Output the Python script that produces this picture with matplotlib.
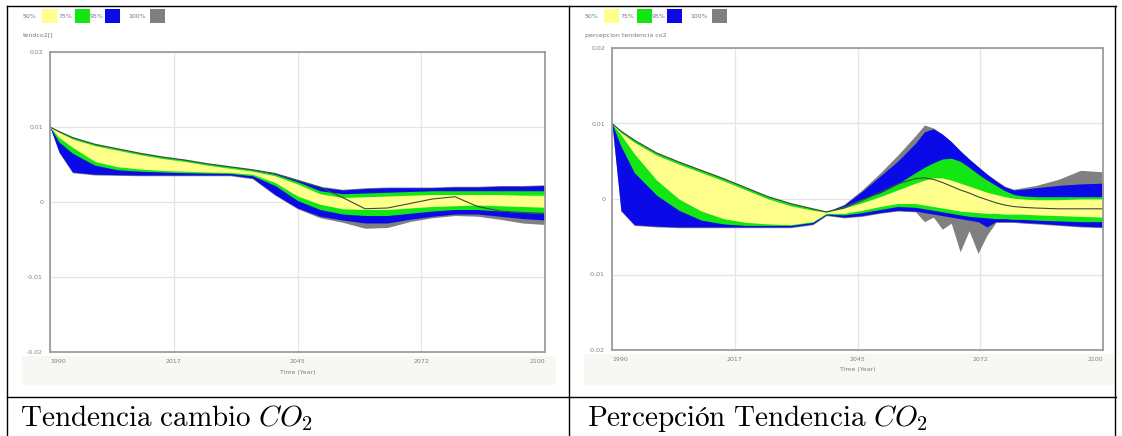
import numpy as np
import matplotlib
matplotlib.use("Agg")
import matplotlib.pyplot as plt
from matplotlib.patches import Rectangle

plt.rcParams['mathtext.fontset'] = 'cm'
plt.rcParams['font.family'] = ['DejaVu Sans']

# ---------------- data: Tendencia cambio CO2 ----------------
years_tend = [1990, 1992, 1995, 2000, 2005, 2010, 2015, 2020, 2025, 2030, 2035, 2040,
              2045, 2050, 2055, 2060, 2065, 2070, 2075, 2080, 2085, 2090, 2095, 2100]
tend_p100_hi = [0.0100, 0.0094, 0.0086, 0.0077, 0.0071, 0.0065, 0.0060, 0.0056, 0.0051, 0.0047, 0.0043, 0.0038,
                0.0029, 0.0021, 0.0017, 0.0019, 0.0020, 0.0020, 0.0020, 0.0021, 0.0021, 0.0022, 0.0022, 0.0023]
tend_p95_hi = [0.0100, 0.0094, 0.0086, 0.0077, 0.0071, 0.0065, 0.0060, 0.0056, 0.0051, 0.0047, 0.0043, 0.0038,
               0.0029, 0.0020, 0.0016, 0.0018, 0.0019, 0.0019, 0.0019, 0.0020, 0.0020, 0.0021, 0.0021, 0.0022]
tend_p75_hi = [0.0100, 0.0094, 0.0086, 0.0077, 0.0071, 0.0065, 0.0060, 0.0056, 0.0051, 0.0047, 0.0043, 0.0037,
               0.0027, 0.0015, 0.0011, 0.0012, 0.0013, 0.0014, 0.0015, 0.0015, 0.0015, 0.0015, 0.0015, 0.0015]
tend_p50_hi = [0.0100, 0.0093, 0.0084, 0.0075, 0.0069, 0.0063, 0.0058, 0.0054, 0.0049, 0.0045, 0.0041, 0.0035,
               0.0024, 0.0011, 0.0006, 0.0007, 0.0008, 0.0009, 0.0010, 0.0010, 0.0010, 0.0010, 0.0009, 0.0009]
tend_p50_lo = [0.0100, 0.0086, 0.0073, 0.0054, 0.0047, 0.0044, 0.0042, 0.0041, 0.0040, 0.00395, 0.0037, 0.0026,
               0.0008, -0.0003, -0.0009, -0.0010, -0.0010, -0.0008, -0.0006, -0.0005, -0.0004, -0.0005, -0.0006, -0.0007]
tend_p75_lo = [0.0100, 0.0080, 0.0065, 0.0049, 0.0043, 0.0041, 0.0040, 0.0039, 0.00385, 0.0038, 0.0035, 0.0022,
               0.0002, -0.0010, -0.0016, -0.0018, -0.0018, -0.0015, -0.0012, -0.0010, -0.0010, -0.0012, -0.0014, -0.0015]
tend_p95_lo = [0.0100, 0.0067, 0.0040, 0.0037, 0.00365, 0.0036, 0.0036, 0.0036, 0.0036, 0.0036, 0.0032, 0.0010,
               -0.0008, -0.0019, -0.0024, -0.0028, -0.0028, -0.0023, -0.0019, -0.0016, -0.0016, -0.0019, -0.0022, -0.0024]
tend_p100_lo = [0.0100, 0.0066, 0.0039, 0.0036, 0.00355, 0.0035, 0.0035, 0.0035, 0.0035, 0.0035, 0.0031, 0.0009,
                -0.0009, -0.0021, -0.0027, -0.0035, -0.0034, -0.0026, -0.0021, -0.0018, -0.0019, -0.0023, -0.0028, -0.0030]
tend_base = [0.0100, 0.0094, 0.0086, 0.0077, 0.0071, 0.0065, 0.0060, 0.0056, 0.0051, 0.0047, 0.0043, 0.0038,
             0.0029, 0.0020, 0.0006, -0.0009, -0.0008, -0.0002, 0.0004, 0.0007, -0.0006, -0.0012, -0.0014, -0.0015]

# ---------------- data: Percepcion Tendencia CO2 ----------------
years_perc = [1990, 1992, 1995, 2000, 2005, 2010, 2015, 2020, 2025, 2030, 2035, 2038, 2042, 2046, 2050,
              2054, 2058, 2060, 2062, 2064, 2066, 2068, 2070, 2072, 2074, 2076, 2078, 2080, 2082, 2085,
              2090, 2095, 2100]
perc_p100_hi = [0.0100, 0.0090, 0.0078, 0.0061, 0.0049, 0.0038, 0.0027, 0.0015, 0.0003, -0.0006, -0.0013, -0.0017,
                -0.0007, 0.0012, 0.0034, 0.0058, 0.0084, 0.0098, 0.0094, 0.0086, 0.0076, 0.0064, 0.0053, 0.0043,
                0.0033, 0.0025, 0.0017, 0.0013, 0.0015, 0.0018, 0.0026, 0.0038, 0.0036]
perc_p95_hi = [0.0100, 0.0090, 0.0078, 0.0061, 0.0049, 0.0038, 0.0027, 0.0015, 0.0003, -0.0006, -0.0013, -0.0017,
               -0.0008, 0.0010, 0.0030, 0.0050, 0.0074, 0.0089, 0.0093, 0.0086, 0.0076, 0.0064, 0.0053, 0.0043,
               0.0033, 0.0024, 0.0016, 0.0012, 0.0013, 0.0015, 0.0018, 0.0020, 0.0021]
perc_p75_hi = [0.0100, 0.0090, 0.0078, 0.0061, 0.0049, 0.0038, 0.0027, 0.0015, 0.0003, -0.0006, -0.0013, -0.0017,
               -0.0010, 0.0000, 0.0008, 0.0020, 0.0035, 0.0042, 0.0048, 0.0053, 0.0054, 0.0050, 0.0042, 0.0033,
               0.0025, 0.0018, 0.0011, 0.0006, 0.0004, 0.0003, 0.0003, 0.0003, 0.0003]
perc_p50_hi = [0.0100, 0.0088, 0.0075, 0.0058, 0.0046, 0.0035, 0.0024, 0.0012, 0.0000, -0.0009, -0.0015, -0.00175,
               -0.0012, -0.0005, 0.0003, 0.0012, 0.0021, 0.0025, 0.0028, 0.0028, 0.0025, 0.0021, 0.0017, 0.0013,
               0.0009, 0.0006, 0.0003, 0.0001, 0.0000, -0.0001, -0.0001, 0.0000, 0.0000]
perc_p50_lo = [0.0100, 0.0085, 0.0060, 0.0025, 0.0000, -0.0016, -0.0026, -0.0031, -0.0033, -0.0034, -0.0030, -0.0019,
               -0.0019, -0.0015, -0.0010, -0.0006, -0.0006, -0.0008, -0.0010, -0.0012, -0.0014, -0.0016, -0.0017, -0.0018,
               -0.0019, -0.0019, -0.0020, -0.0020, -0.0020, -0.0021, -0.0022, -0.0023, -0.0024]
perc_p75_lo = [0.0100, 0.0070, 0.0035, 0.0005, -0.0015, -0.0028, -0.0033, -0.0035, -0.0035, -0.0035, -0.0031, -0.0020,
               -0.0021, -0.0018, -0.0014, -0.0010, -0.0011, -0.0013, -0.0015, -0.0017, -0.0019, -0.0021, -0.0023, -0.0024,
               -0.0025, -0.0026, -0.0026, -0.0027, -0.0027, -0.0028, -0.0029, -0.0030, -0.0030]
perc_p95_lo = [0.0100, -0.0015, -0.0034, -0.0036, -0.0037, -0.0037, -0.0037, -0.0037, -0.0037, -0.0037, -0.0033, -0.0021,
               -0.0024, -0.0022, -0.0018, -0.0015, -0.0016, -0.0018, -0.0020, -0.0022, -0.0024, -0.0026, -0.0028, -0.0030,
               -0.0037, -0.0030, -0.0030, -0.0030, -0.0031, -0.0032, -0.0034, -0.0036, -0.0037]
perc_p100_lo = [0.0100, -0.0016, -0.0035, -0.0037, -0.0038, -0.0038, -0.0038, -0.0038, -0.0038, -0.0038, -0.0034, -0.0022,
                -0.0025, -0.0023, -0.0019, -0.0016, -0.0017, -0.0030, -0.0024, -0.0040, -0.0032, -0.0070, -0.0042, -0.0072,
                -0.0048, -0.0031, -0.0031, -0.0031, -0.0032, -0.0033, -0.0035, -0.0037, -0.0038]
perc_base = [0.0100, 0.0090, 0.0078, 0.0061, 0.0049, 0.0038, 0.0027, 0.0015, 0.0003, -0.0006, -0.0013, -0.0017,
             -0.0012, -0.0002, 0.0009, 0.0020, 0.0027, 0.0028, 0.0026, 0.0022, 0.0017, 0.0012, 0.0008, 0.0003,
             -0.0001, -0.0005, -0.0008, -0.0010, -0.0011, -0.0012, -0.0013, -0.0013, -0.0013]

x_ticks = [1990, 2017.5, 2045, 2072.5, 2100]
x_tick_labels = ['1990', '2017', '2045', '2072', '2100']
y_ticks = [0.02, 0.01, 0.0, -0.01, -0.02]
y_tick_labels = ['0.02', '0.01', '0', '-0.01', '-0.02']
legend_labels = ['50%', '75%', '95%', '100%']
band_colors = ['#ffff8c', '#14e614', '#0a0ae8', '#808080']

W, H = 1122, 436
fig = plt.figure(figsize=(W / 100, H / 100), dpi=100)
fig.patch.set_facecolor('white')


def px_box(x0, y0, x1, y1):
    """Pixel box (top-left origin) -> figure-fraction rect."""
    return [x0 / W, 1 - y1 / H, (x1 - x0) / W, (y1 - y0) / H]


# overlay in pixel coordinates for table rules, captions and legends
over = fig.add_axes([0, 0, 1, 1], zorder=0)
over.set_xlim(0, W)
over.set_ylim(H, 0)
over.axis('off')

# table rules
rule = dict(color='black', lw=1.0)
over.plot([7, 1116], [6.5, 6.5], **rule)
over.plot([7, 1116], [397, 397], **rule)
over.plot([7.5, 7.5], [6, H], **rule)
over.plot([569, 569], [6, H], **rule)
over.plot([1115.5, 1115.5], [6, H], **rule)

# faint tinted strip at the bottom of each screenshot
over.add_patch(Rectangle((22, 356), 534, 29, color='#f7f7f3', lw=0))
over.add_patch(Rectangle((584, 354), 530, 31, color='#f7f7f3', lw=0))

# captions
over.text(20, 426, r'$\mathrm{Tendencia\ cambio}\ CO_2$', fontsize=21, va='baseline', ha='left')
over.text(587, 426, r'$\mathrm{Percepción\ Tendencia}\ CO_2$', fontsize=21, va='baseline', ha='left')


def draw_legend(x0, y0, unit_label):
    offsets = [(0, 19), (35, 52), (67, 82), (105, 127)]
    for (tx, bx), lab, col in zip(offsets, legend_labels, band_colors):
        over.text(x0 + tx, y0, lab, fontsize=4.5, color='#777777', va='center', ha='left')
        over.add_patch(Rectangle((x0 + bx, y0 - 7), 15, 14, color=col, lw=0))
    over.text(x0, y0 + 19, unit_label, fontsize=4.5, color='#777777', va='center', ha='left')


draw_legend(23, 16, 'tendco2[]')
draw_legend(585, 16, 'percepcion tendencia co2')


def draw_panel(rect, years, hi100, lo100, hi95, lo95, hi75, lo75, hi50, lo50, base):
    ax = fig.add_axes(px_box(*rect), zorder=1)
    ax.set_facecolor('white')
    ax.fill_between(years, lo100, hi100, color=band_colors[3], lw=0)
    ax.fill_between(years, lo95, hi95, color=band_colors[2], lw=0)
    ax.fill_between(years, lo75, hi75, color=band_colors[1], lw=0)
    ax.fill_between(years, lo50, hi50, color=band_colors[0], lw=0)
    ax.plot(years, base, color='#3c4a3c', lw=0.8)
    ax.set_xlim(1990, 2100)
    ax.set_ylim(-0.02, 0.02)
    ax.set_xticks(x_ticks)
    ax.set_xticklabels(x_tick_labels)
    ax.set_yticks(y_ticks)
    ax.set_yticklabels(y_tick_labels)
    ax.grid(True, color='#e4e4e4', lw=0.9)
    ax.set_axisbelow(True)
    for s in ax.spines.values():
        s.set_color('#9c9c9c')
        s.set_linewidth(1.3)
    ax.tick_params(length=0, labelsize=4.5, labelcolor='#808080', pad=5)
    lbls = ax.get_xticklabels()
    lbls[0].set_ha('left')
    lbls[-1].set_ha('right')
    ax.set_xlabel('Time (Year)', fontsize=4.5, color='#808080', labelpad=4)
    return ax


draw_panel((50, 52, 545, 352), years_tend,
           tend_p100_hi, tend_p100_lo, tend_p95_hi, tend_p95_lo,
           tend_p75_hi, tend_p75_lo, tend_p50_hi, tend_p50_lo, tend_base)
draw_panel((612, 48, 1103, 350), years_perc,
           perc_p100_hi, perc_p100_lo, perc_p95_hi, perc_p95_lo,
           perc_p75_hi, perc_p75_lo, perc_p50_hi, perc_p50_lo, perc_base)

fig.savefig('out.png', dpi=100)
